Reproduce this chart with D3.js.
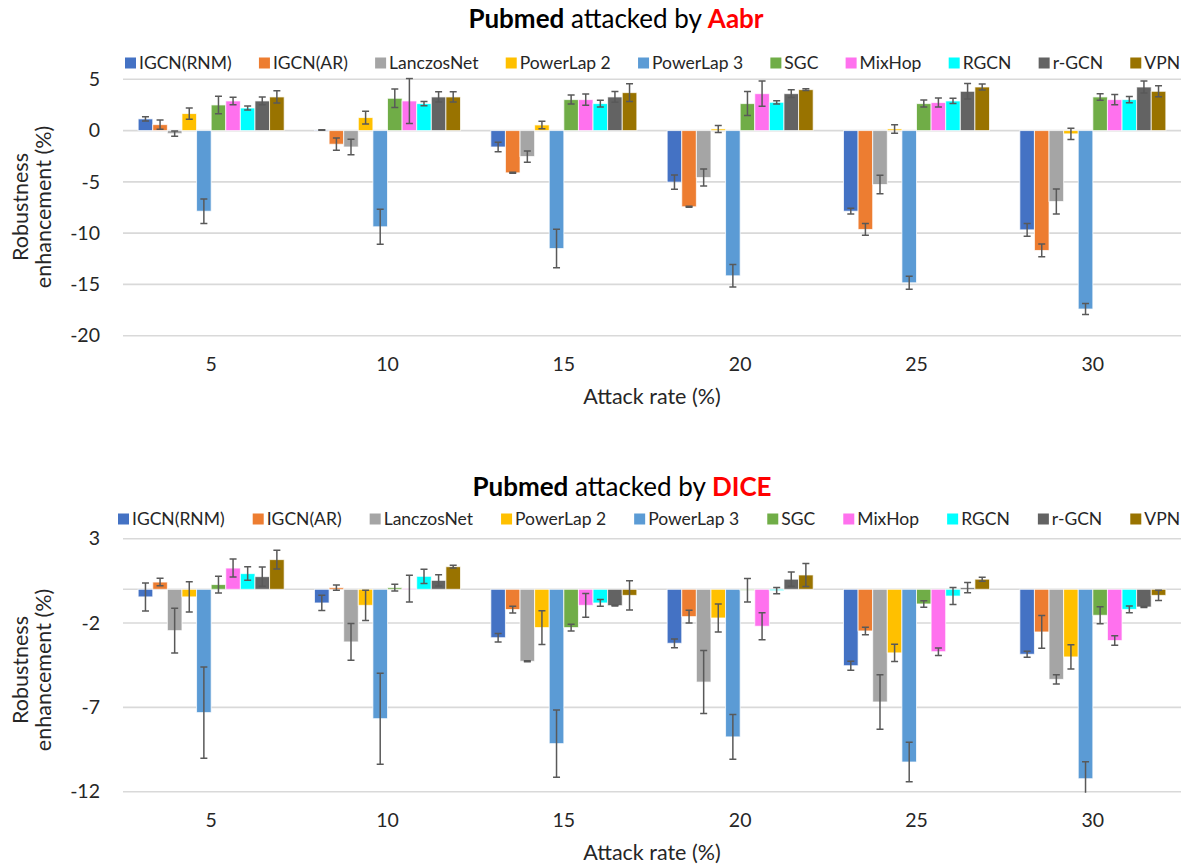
<!DOCTYPE html>
<html>
<head>
<meta charset="utf-8">
<script src="https://cdn.jsdelivr.net/npm/d3@7"></script>
<style>
  html, body { margin: 0; padding: 0; background: #fff; }
  svg { display: block; font-family: Lato, "Open Sans", sans-serif; }
</style>
</head>
<body>
<svg id="chart" width="1191" height="868"></svg>
<script>
// Attack rates (%) on the x axis
const categories = ["5", "10", "15", "20", "25", "30"];

// Methods compared in every group
const seriesNames = ["IGCN(RNM)", "IGCN(AR)", "LanczosNet", "PowerLap 2", "PowerLap 3",
                     "SGC", "MixHop", "RGCN", "r-GCN", "VPN"];
const seriesColors = ["#4472C4", "#ED7D31", "#A5A5A5", "#FFC000", "#5B9BD5",
                      "#70AD47", "#FF71EE", "#00FFFF", "#636363", "#997300"];

// Pubmed attacked by Aabr: mean robustness enhancement (%) per method, per attack rate
const aabrMean = [
  [1.14, 0.06, -1.6, -5.03, -7.86, -9.68],
  [0.58, -1.33, -4.12, -7.43, -9.64, -11.69],
  [-0.3, -1.6, -2.53, -4.58, -5.26, -6.92],
  [1.66, 1.27, 0.55, 0.16, 0.16, -0.32],
  [-7.86, -9.38, -11.5, -14.16, -14.84, -17.4],
  [2.5, 3.15, 3.02, 2.63, 2.63, 3.28],
  [2.89, 2.89, 3.02, 3.6, 2.73, 3.02],
  [2.2, 2.63, 2.63, 2.76, 2.89, 3.02],
  [2.89, 3.28, 3.28, 3.6, 3.83, 4.25],
  [3.28, 3.28, 3.7, 3.99, 4.25, 3.83]
];
// Pubmed attacked by Aabr: standard deviation
const aabrErr = [
  [0.2, 0.02, 0.47, 0.7, 0.28, 0.62],
  [0.45, 0.6, 0.05, 0.05, 0.57, 0.62],
  [0.25, 0.76, 0.55, 0.83, 0.9, 1.22],
  [0.55, 0.62, 0.36, 0.34, 0.42, 0.55],
  [1.2, 1.7, 1.87, 1.1, 0.63, 0.54],
  [0.85, 0.9, 0.44, 1.17, 0.34, 0.32],
  [0.37, 2.2, 0.55, 1.23, 0.44, 0.5],
  [0.2, 0.2, 0.33, 0.16, 0.26, 0.3],
  [0.38, 0.5, 0.52, 0.37, 0.76, 0.58],
  [0.6, 0.5, 0.86, 0.08, 0.3, 0.54]
];

// Pubmed attacked by DICE: mean robustness enhancement (%)
const diceMean = [
  [-0.45, -0.81, -2.87, -3.2, -4.53, -3.85],
  [0.43, 0.1, -1.2, -1.62, -2.47, -2.53],
  [-2.45, -3.12, -4.27, -5.5, -6.68, -5.34],
  [-0.45, -0.95, -2.27, -1.7, -3.77, -4.01],
  [-7.31, -7.67, -9.15, -8.75, -10.24, -11.23],
  [0.28, 0.1, -2.27, -0.06, -0.87, -1.54],
  [1.26, 0.04, -0.95, -2.19, -3.7, -3.04],
  [0.93, 0.77, -0.81, -0.08, -0.4, -1.19],
  [0.75, 0.53, -0.97, 0.6, 0.1, -1.05],
  [1.76, 1.34, -0.36, 0.85, 0.6, -0.36]
];
// Pubmed attacked by DICE: standard deviation
const diceErr = [
  [0.83, 0.45, 0.25, 0.26, 0.27, 0.18],
  [0.22, 0.15, 0.2, 0.38, 0.22, 0.97],
  [1.33, 1.09, 0.03, 1.87, 1.62, 0.27],
  [0.9, 0.9, 1.0, 0.83, 0.51, 0.72],
  [2.7, 2.7, 2.0, 1.32, 1.17, 1.0],
  [0.5, 0.2, 0.2, 0.7, 0.19, 0.5],
  [0.53, 0.8, 0.7, 0.8, 0.22, 0.28],
  [0.4, 0.42, 0.2, 0.18, 0.5, 0.2],
  [0.57, 0.33, 0.02, 0.42, 0.3, 0.03],
  [0.55, 0.08, 0.87, 0.68, 0.12, 0.3]
];

// Axis ticks for each panel
const aabrTicks = [5, 0, -5, -10, -15, -20];
const diceTicks = [3, -2, -7, -12];

const svg = d3.select("#chart");

function drawPanel(cfg) {
  const g = svg.append("g");
  const x0 = d3.scaleBand().domain(categories).range([cfg.left, cfg.right])
    .paddingInner(0.172).paddingOuter(0.086);
  const x1 = d3.scaleBand().domain(d3.range(seriesNames.length))
    .range([0, x0.bandwidth()]).padding(0);
  const y = d3.scaleLinear().domain(cfg.domain).range([cfg.bottom, cfg.top]);

  // horizontal gridlines (plus zero line)
  const gridVals = cfg.ticks.includes(0) ? cfg.ticks : cfg.ticks.concat([0]);
  g.append("g").selectAll("line").data(gridVals).join("line")
    .attr("x1", cfg.left).attr("x2", cfg.right)
    .attr("y1", d => y(d)).attr("y2", d => y(d))
    .attr("stroke", "#d9d9d9").attr("stroke-width", 1.6);

  // y tick labels (plain hyphen for negatives)
  const yAxis = g.append("g").attr("transform", `translate(${cfg.left - 23},0)`)
    .call(d3.axisLeft(y).tickValues(cfg.ticks).tickSize(0).tickPadding(0)
      .tickFormat(d => String(d)));
  yAxis.select(".domain").remove();
  yAxis.selectAll("text").attr("font-size", 19.5).attr("fill", "#262626")
    .attr("font-family", "Lato, sans-serif");

  // x category labels
  const xAxis = g.append("g").attr("transform", `translate(0,${cfg.bottom})`)
    .call(d3.axisBottom(x0).tickSize(0).tickPadding(21));
  xAxis.select(".domain").remove();
  xAxis.selectAll("text").attr("font-size", 19.5).attr("fill", "#262626")
    .attr("font-family", "Lato, sans-serif");

  const clipId = "clip-" + cfg.key;
  svg.append("clipPath").attr("id", clipId).append("rect")
    .attr("x", cfg.left).attr("y", cfg.top - 2)
    .attr("width", cfg.right - cfg.left).attr("height", cfg.bottom - cfg.top + 3);

  const plot = g.append("g").attr("clip-path", `url(#${clipId})`);

  const records = [];
  seriesNames.forEach((s, si) => {
    categories.forEach((c, ci) => {
      records.push({ si, c, v: cfg.mean[si][ci], e: cfg.err[si][ci] });
    });
  });

  plot.append("g").selectAll("rect").data(records).join("rect")
    .attr("x", d => x0(d.c) + x1(d.si))
    .attr("width", x1.bandwidth())
    .attr("y", d => y(Math.max(0, d.v)))
    .attr("height", d => Math.abs(y(d.v) - y(0)))
    .attr("fill", d => seriesColors[d.si])
    .attr("stroke", "#ffffff").attr("stroke-opacity", 0.75).attr("stroke-width", 1);

  // error bars
  const eb = plot.append("g").attr("stroke", "#595959").attr("stroke-width", 1.5)
    .selectAll("g").data(records).join("g")
    .attr("transform", d => `translate(${x0(d.c) + x1(d.si) + x1.bandwidth() / 2},0)`);
  eb.append("line").attr("x1", 0).attr("x2", 0)
    .attr("y1", d => y(d.v - d.e)).attr("y2", d => y(d.v + d.e));
  eb.append("line").attr("x1", -3.5).attr("x2", 3.5)
    .attr("y1", d => y(d.v - d.e)).attr("y2", d => y(d.v - d.e));
  eb.append("line").attr("x1", -3.5).attr("x2", 3.5)
    .attr("y1", d => y(d.v + d.e)).attr("y2", d => y(d.v + d.e));

  // title
  const t = g.append("text").attr("x", cfg.titleX).attr("y", cfg.titleY)
    .attr("text-anchor", "middle").attr("font-size", 26).attr("fill", "#000");
  t.append("tspan").attr("font-weight", "bold").text("Pubmed");
  t.append("tspan").text(" attacked by ");
  t.append("tspan").attr("font-weight", "bold").attr("fill", "#ff0000").text(cfg.attack);

  // legend
  const lg = g.append("g").attr("transform", `translate(0,${cfg.legendY})`);
  const items = lg.selectAll("g").data(seriesNames).join("g");
  items.append("rect").attr("width", 11).attr("height", 11).attr("y", -5.5)
    .attr("fill", (d, i) => seriesColors[i]);
  items.append("text").attr("x", 14).attr("dy", "0.35em").attr("font-size", 17.5)
    .attr("fill", "#262626").text(d => d);
  const widths = [];
  items.each(function () { widths.push(14 + this.querySelector("text").getComputedTextLength()); });
  const total = d3.sum(widths);
  const gap = (cfg.legendRight - cfg.legendLeft - total) / (seriesNames.length - 1);
  let cx = cfg.legendLeft;
  items.attr("transform", (d, i) => { const p = cx; cx += widths[i] + gap; return `translate(${p},0)`; });

  // axis titles
  const yl = g.append("text")
    .attr("transform", `translate(33,${cfg.yLabelY}) rotate(-90)`)
    .attr("text-anchor", "middle").attr("font-size", 21.5).attr("fill", "#262626");
  yl.append("tspan").attr("x", 0).attr("dy", "-0.25em").text("Robustness");
  yl.append("tspan").attr("x", 0).attr("dy", "1.1em").text("enhancement (%)");

  g.append("text").attr("x", (cfg.left + cfg.right) / 2).attr("y", cfg.xLabelY)
    .attr("text-anchor", "middle").attr("font-size", 21.5).attr("fill", "#262626")
    .text("Attack rate (%)");
}

drawPanel({
  key: "aabr", attack: "Aabr", mean: aabrMean, err: aabrErr, ticks: aabrTicks,
  domain: [-20, 5], left: 123, right: 1181, top: 79.3, bottom: 335.7,
  titleX: 616, titleY: 28, legendY: 63, legendLeft: 125, legendRight: 1180,
  yLabelY: 207, xLabelY: 404
});

drawPanel({
  key: "dice", attack: "DICE", mean: diceMean, err: diceErr, ticks: diceTicks,
  domain: [-12, 3], left: 123, right: 1181, top: 538.7, bottom: 791.7,
  titleX: 622, titleY: 496, legendY: 519, legendLeft: 118, legendRight: 1180,
  yLabelY: 670, xLabelY: 860
});
</script>
</body>
</html>
